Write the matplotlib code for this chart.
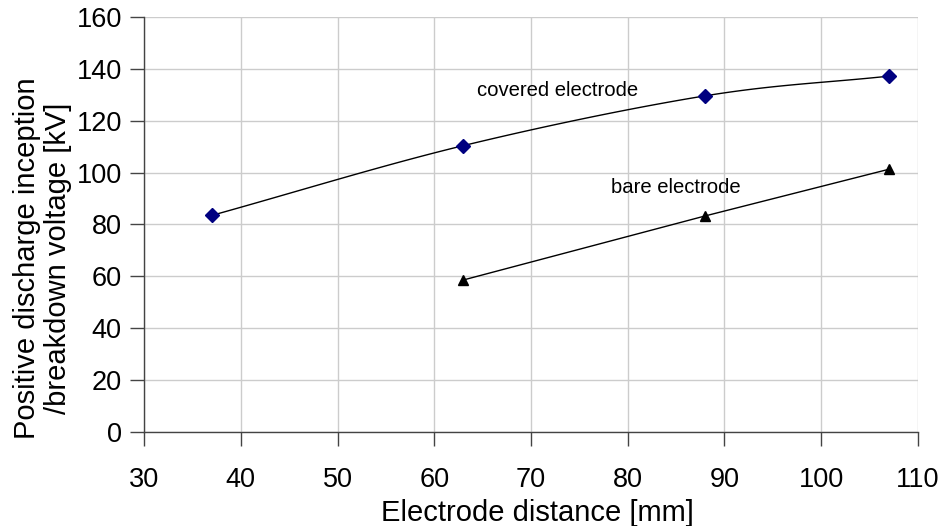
import numpy as np
import matplotlib
matplotlib.use("Agg")
import matplotlib.pyplot as plt

plt.rcParams['font.family'] = ['Liberation Sans', 'DejaVu Sans']

covered_x = [37, 63, 88, 107]
covered_y = [83.5, 110.4, 129.6, 137.2]
bare_x = [63, 88, 107]
bare_y = [58.6, 83.3, 101.3]
x_ticks = [30, 40, 50, 60, 70, 80, 90, 100, 110]
y_ticks = [0, 20, 40, 60, 80, 100, 120, 140, 160]


def smooth(xs, ys, n=40):
    # Catmull-Rom style smoothing as used by spreadsheet "smoothed line"
    xs = np.asarray(xs, float); ys = np.asarray(ys, float)
    P = np.column_stack([xs, ys])
    P = np.vstack([P[0] - (P[1] - P[0]), P, P[-1] + (P[-1] - P[-2])])
    out = []
    for i in range(1, len(P) - 2):
        p0, p1, p2, p3 = P[i - 1], P[i], P[i + 1], P[i + 2]
        t = np.linspace(0, 1, n)[:, None]
        c = 0.5 * ((2 * p1) + (-p0 + p2) * t + (2 * p0 - 5 * p1 + 4 * p2 - p3) * t**2
                   + (-p0 + 3 * p1 - 3 * p2 + p3) * t**3)
        out.append(c)
    c = np.vstack(out)
    return c[:, 0], c[:, 1]


fig = plt.figure(figsize=(9.45, 5.26), dpi=100)
ax = fig.add_axes([0.1524, 0.1787, 0.8190, 0.7890])

sx, sy = smooth(covered_x, covered_y)
ax.plot(sx, sy, color='black', lw=1.0, zorder=3)
ax.plot(covered_x, covered_y, linestyle='none', marker='D', markersize=7,
        color='#000080', zorder=4)
ax.plot(bare_x, bare_y, color='black', lw=1.0, marker='^', markersize=7,
        markerfacecolor='black', markeredgecolor='black', zorder=4)

ax.text(72.7, 131.5, 'covered electrode', fontsize=14.6, ha='center', va='center')
ax.text(85.0, 94.4, 'bare electrode', fontsize=14.6, ha='center', va='center')

ax.set_xlim(30, 110)
ax.set_ylim(0, 160)
ax.set_xticks(x_ticks)
ax.set_yticks(y_ticks)
ax.grid(True, color='#cccccc', lw=1.0)
ax.set_axisbelow(True)
for s in ['top', 'right']:
    ax.spines[s].set_visible(False)
for s in ['left', 'bottom']:
    ax.spines[s].set_color('#444444')
    ax.spines[s].set_linewidth(1.0)
ax.tick_params(axis='both', direction='out', length=10, width=1, color='#444444',
               labelsize=19.5)
ax.tick_params(axis='x', pad=15.5)
ax.tick_params(axis='y', pad=6)

ax.set_xlabel('Electrode distance [mm]', fontsize=21)
ax.xaxis.set_label_coords(0.508, -0.162)
ax.set_ylabel('Positive discharge inception\n/breakdown voltage [kV]', fontsize=21,
              linespacing=1.15, ha='center', va='center', rotation_mode='default')
ax.yaxis.set_label_coords(-0.131, 0.419)

fig.savefig('out.png', dpi=100, facecolor='white')
